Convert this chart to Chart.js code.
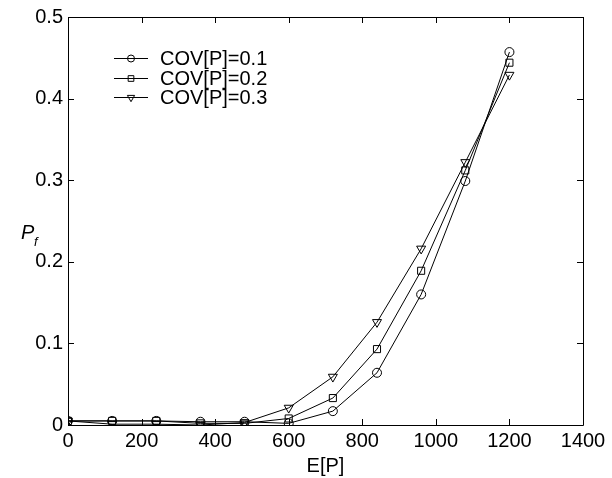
<!DOCTYPE html>
<html>
<head>
<meta charset="utf-8">
<script src="https://cdn.jsdelivr.net/npm/chart.js@4.4.1/dist/chart.umd.min.js"></script>
<style>
  html, body { margin: 0; padding: 0; background: #fff; }
  #wrap { width: 612px; height: 478px; position: relative; }
</style>
</head>
<body>
<div id="wrap"><canvas id="c" width="612" height="478"></canvas></div>
<script>
// Mean load E[P] at which the failure probability was evaluated
const meanLoad = [0, 120, 240, 360, 480, 600, 720, 840, 960, 1080, 1200];

// Failure probability P_f for each coefficient of variation of P
const pfCov01 = [0.005, 0.005, 0.005, 0.004, 0.004, 0.002, 0.017, 0.064, 0.160, 0.299, 0.457];
const pfCov02 = [0.005, 0.005, 0.005, 0.002, 0.002, 0.008, 0.033, 0.093, 0.189, 0.312, 0.444];
const pfCov03 = [0.005, 0.001, 0.001, 0.000, 0.003, 0.021, 0.059, 0.126, 0.216, 0.322, 0.429];

const seriesNames = ['COV[P]=0.1', 'COV[P]=0.2', 'COV[P]=0.3'];

// Axis ticks
const xTicks = [0, 200, 400, 600, 800, 1000, 1200, 1400];
const yTicks = [0, 0.1, 0.2, 0.3, 0.4, 0.5];

const FONT = 'Liberation Sans, Arial, Helvetica, sans-serif';

const markerStyles = [
  { pointStyle: 'circle', radius: 4.5, rotation: 0 },
  { pointStyle: 'rect', radius: 5, rotation: 0 },
  { pointStyle: 'triangle', radius: 5.2, rotation: 180 }
];

function makeSet(label, values, m) {
  return {
    label: label,
    data: meanLoad.map((x, i) => ({ x: x, y: values[i] })),
    borderColor: '#000',
    borderWidth: 1,
    backgroundColor: 'rgba(0,0,0,0)',
    pointStyle: m.pointStyle,
    pointRadius: m.radius,
    pointRotation: m.rotation,
    pointBorderColor: '#000',
    pointBackgroundColor: 'rgba(0,0,0,0)',
    pointBorderWidth: 1,
    tension: 0,
    fill: false
  };
}

// Box around the plot, inward ticks on all four sides, legend and y title
const framePlugin = {
  id: 'frame',
  afterDatasetsDraw(chart) {
    const ctx = chart.ctx;
    const a = chart.chartArea;
    const xs = chart.scales.x, ys = chart.scales.y;
    ctx.save();
    ctx.strokeStyle = '#000';
    ctx.lineWidth = 1;
    ctx.beginPath();
    ctx.rect(Math.round(a.left) + 0.5, Math.round(a.top) + 0.5,
             Math.round(a.right - a.left), Math.round(a.bottom - a.top));
    ctx.stroke();
    const tl = 6;
    ctx.beginPath();
    xTicks.forEach(v => {
      const px = Math.round(xs.getPixelForValue(v)) + 0.5;
      ctx.moveTo(px, a.bottom); ctx.lineTo(px, a.bottom - tl);
      ctx.moveTo(px, a.top); ctx.lineTo(px, a.top + tl);
    });
    yTicks.forEach(v => {
      const py = Math.round(ys.getPixelForValue(v)) + 0.5;
      ctx.moveTo(a.left, py); ctx.lineTo(a.left + tl, py);
      ctx.moveTo(a.right, py); ctx.lineTo(a.right - tl, py);
    });
    ctx.stroke();

    // legend inside the plot area
    const lx0 = a.left + 46, lx1 = a.left + 80, tx = a.left + 92;
    const rowY = [a.top + 41, a.top + 61, a.top + 80];
    chart.data.datasets.forEach((ds, i) => {
      const y = rowY[i] + 0.5;
      ctx.beginPath();
      ctx.moveTo(lx0, y); ctx.lineTo(lx1, y);
      ctx.stroke();
      ctx.fillStyle = 'rgba(0,0,0,0)';
      Chart.helpers.drawPoint(ctx, {
        pointStyle: markerStyles[i].pointStyle,
        radius: markerStyles[i].radius - 1,
        rotation: markerStyles[i].rotation,
        borderWidth: 1
      }, (lx0 + lx1) / 2, y);
      ctx.font = '20px ' + FONT;
      ctx.fillStyle = '#000';
      ctx.textBaseline = 'middle';
      ctx.textAlign = 'left';
      ctx.fillText(ds.label, tx, rowY[i] + 1);
    });

    // y axis title: italic P with subscript f
    ctx.fillStyle = '#000';
    ctx.textBaseline = 'alphabetic';
    ctx.font = 'italic 20px ' + FONT;
    ctx.fillText('P', 21, 239);
    ctx.font = 'italic 13px ' + FONT;
    ctx.fillText('f', 34, 246);
    ctx.restore();
  }
};

new Chart(document.getElementById('c'), {
  type: 'line',
  data: {
    datasets: [
      makeSet(seriesNames[0], pfCov01, markerStyles[0]),
      makeSet(seriesNames[1], pfCov02, markerStyles[1]),
      makeSet(seriesNames[2], pfCov03, markerStyles[2])
    ]
  },
  options: {
    responsive: false,
    animation: false,
    layout: { padding: { left: 0, right: 29, top: 17, bottom: 0 } },
    plugins: { legend: { display: false }, tooltip: { enabled: false } },
    elements: { line: { borderJoinStyle: 'miter' } },
    scales: {
      x: {
        type: 'linear',
        min: 0, max: 1400,
        afterBuildTicks(s) { s.ticks = xTicks.map(v => ({ value: v })); },
        afterFit(s) { s.height = 53; },
        grid: { display: false, drawTicks: false },
        border: { display: false },
        ticks: { color: '#000', font: { family: FONT, size: 20 }, padding: 4, maxRotation: 0,
                 callback: v => String(v) },
        title: { display: true, text: 'E[P]', color: '#000', font: { family: FONT, size: 20 }, padding: { top: 0, bottom: 0 } }
      },
      y: {
        type: 'linear',
        min: 0, max: 0.5,
        afterBuildTicks(s) { s.ticks = yTicks.map(v => ({ value: v })); },
        afterFit(s) { s.width = 68; },
        grid: { display: false, drawTicks: false },
        border: { display: false },
        ticks: { color: '#000', font: { family: FONT, size: 20 }, padding: 5,
                 callback: v => String(v) }
      }
    }
  },
  plugins: [framePlugin]
});
</script>
</body>
</html>
